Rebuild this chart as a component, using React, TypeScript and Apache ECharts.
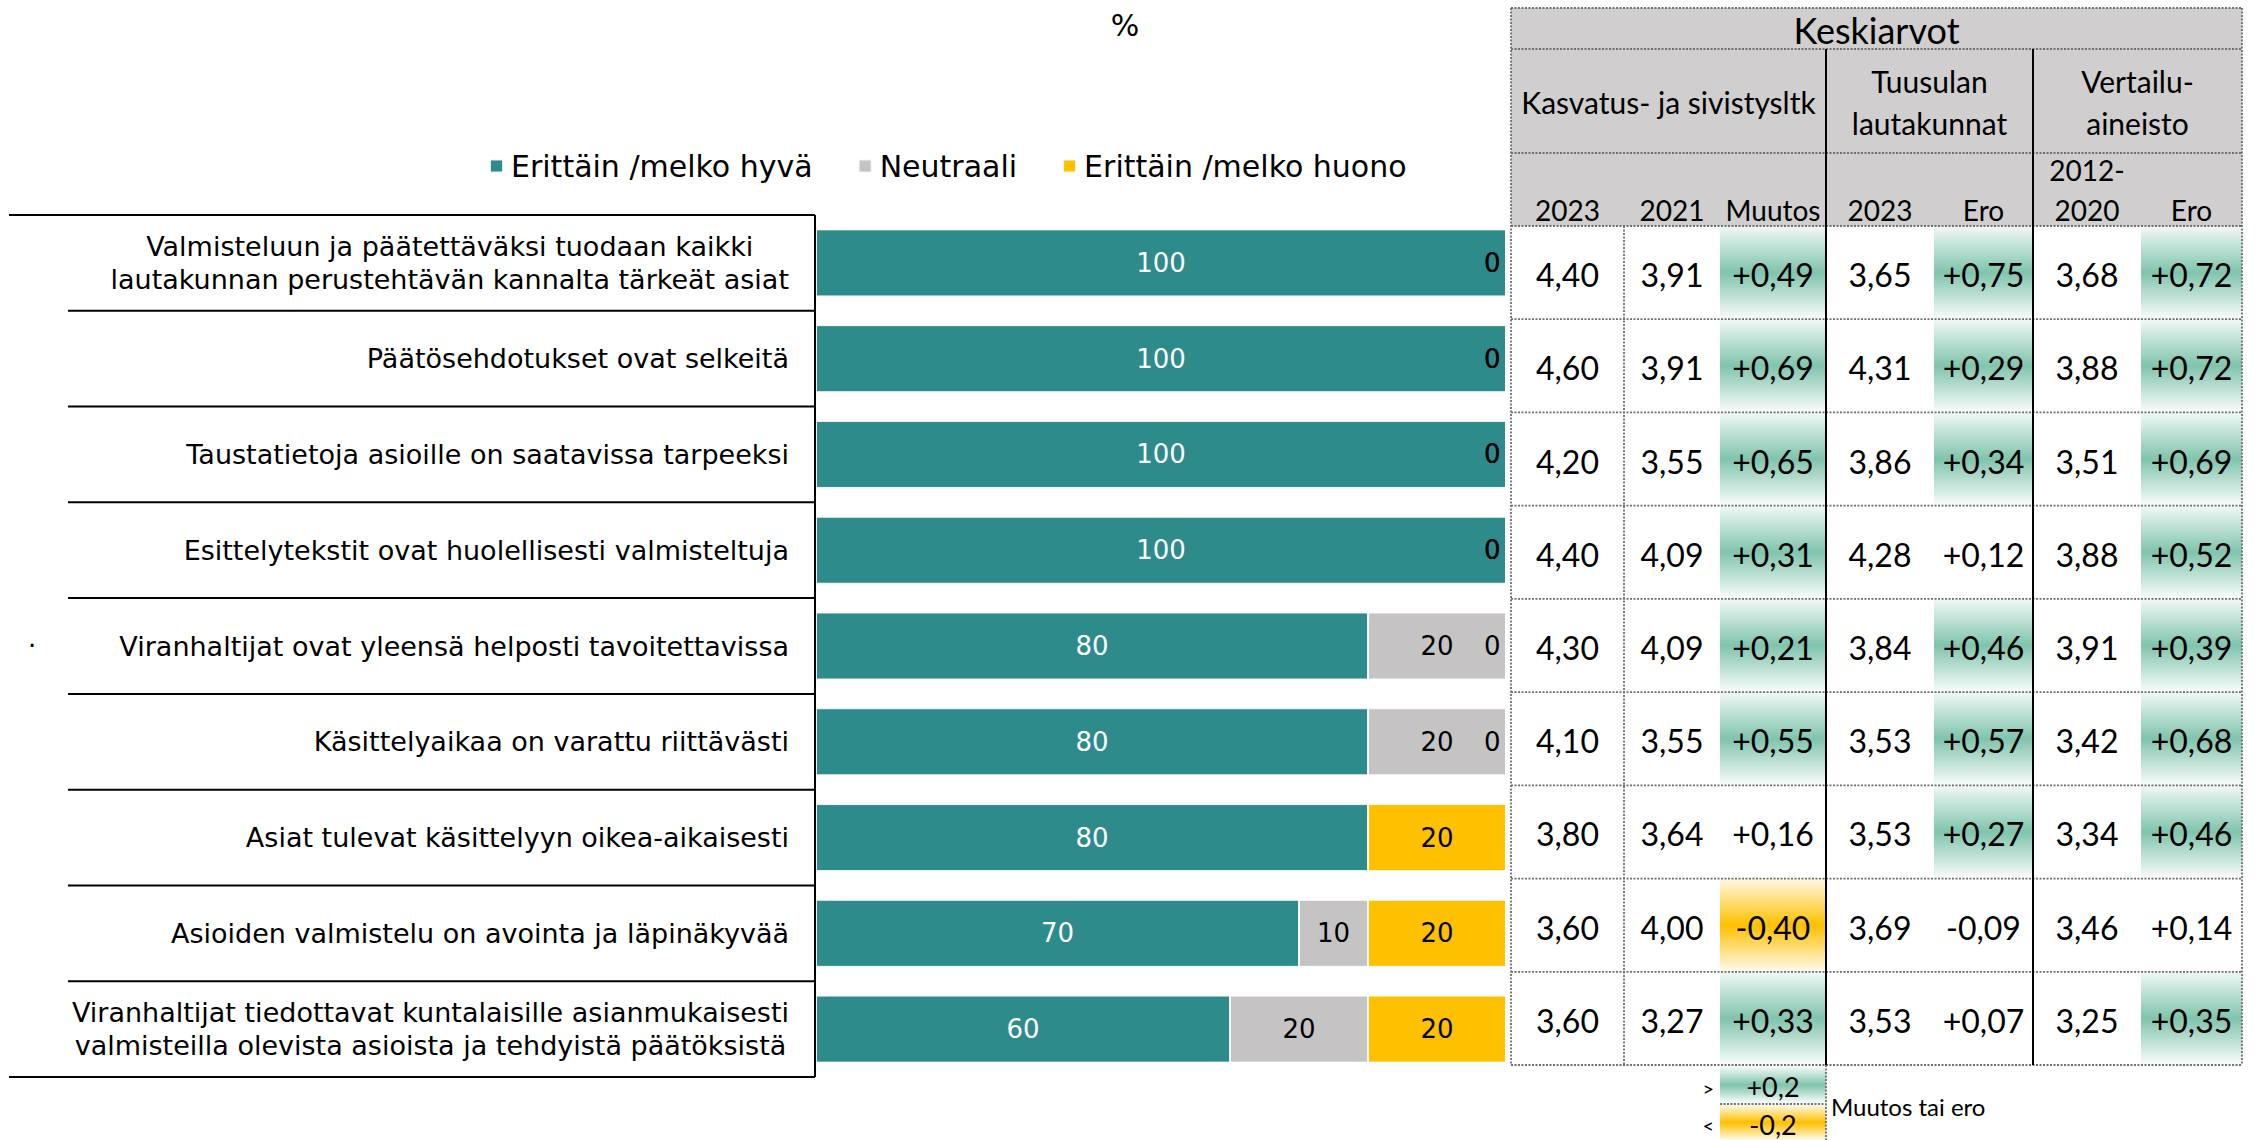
import React, { useEffect, useRef } from "react";
import * as echarts from "echarts";

// ---------- DATA ----------
const categories = [
  "Valmisteluun ja päätettäväksi tuodaan kaikki\nlautakunnan perustehtävän kannalta tärkeät asiat",
  "Päätösehdotukset ovat selkeitä",
  "Taustatietoja asioille on saatavissa tarpeeksi",
  "Esittelytekstit ovat huolellisesti valmisteltuja",
  "Viranhaltijat ovat yleensä helposti tavoitettavissa",
  "Käsittelyaikaa on varattu riittävästi",
  "Asiat tulevat käsittelyyn oikea-aikaisesti",
  "Asioiden valmistelu on avointa ja läpinäkyvää",
  "Viranhaltijat tiedottavat kuntalaisille asianmukaisesti\nvalmisteilla olevista asioista ja tehdyistä päätöksistä",
];
const seriesNames = ["Erittäin /melko hyvä", "Neutraali", "Erittäin /melko huono"];
const goodValues = [100, 100, 100, 100, 80, 80, 80, 70, 60];
const neutralValues = [0, 0, 0, 0, 20, 20, 0, 10, 20];
const badValues = [0, 0, 0, 0, 0, 0, 20, 20, 20];

const tableTitle = "Keskiarvot";
const groupHeaders = ["Kasvatus- ja sivistysltk", "Tuusulan\nlautakunnat", "Vertailu-\naineisto"];
const columnHeaders = ["2023", "2021", "Muutos", "2023", "Ero", "2012-\n2020", "Ero"];
const kasvatus2023 = [4.4, 4.6, 4.2, 4.4, 4.3, 4.1, 3.8, 3.6, 3.6];
const kasvatus2021 = [3.91, 3.91, 3.55, 4.09, 4.09, 3.55, 3.64, 4.0, 3.27];
const kasvatusMuutos = [0.49, 0.69, 0.65, 0.31, 0.21, 0.55, 0.16, -0.4, 0.33];
const tuusula2023 = [3.65, 4.31, 3.86, 4.28, 3.84, 3.53, 3.53, 3.69, 3.53];
const tuusulaEro = [0.75, 0.29, 0.34, 0.12, 0.46, 0.57, 0.27, -0.09, 0.07];
const vertailu = [3.68, 3.88, 3.51, 3.88, 3.91, 3.42, 3.34, 3.46, 3.25];
const vertailuEro = [0.72, 0.72, 0.69, 0.52, 0.39, 0.68, 0.46, 0.14, 0.35];
const threshold = 0.2;
const legendNote = "Muutos tai ero";
const unitLabel = "%";

// ---------- STYLE / LAYOUT ----------
const W = 2257;
const H = 1140;
const COLORS = ["#2E8B8B", "#C5C3C4", "#FFC000"];
const LABEL_FONT = "DejaVu Sans";
const TABLE_FONT = "Lato";
const GRID_L = 816;
const GRID_R = 1506;
const GRID_T = 215;
const GRID_B = 1077;
const COLS = [1511, 1624, 1720, 1826, 1934, 2033, 2141, 2242];
const T_TOP = 8;
const T_B1 = 49;
const T_B2 = 153;
const T_B3 = 226;
const T_BOT = 1065;

const fmt = (v: number, sign: boolean) => {
  const s = Math.abs(v).toFixed(2).replace(".", ",");
  if (!sign) return s;
  return (v >= 0 ? "+" : "-") + s;
};

const greenGrad = () =>
  new echarts.graphic.LinearGradient(0, 0, 0, 1, [
    { offset: 0, color: "#F1F9F6" },
    { offset: 0.5, color: "#80C4AD" },
    { offset: 1, color: "#FAFDFC" },
  ]);
const yellowGrad = () =>
  new echarts.graphic.LinearGradient(0, 0, 0, 1, [
    { offset: 0, color: "#FFF9E6" },
    { offset: 0.5, color: "#FFC000" },
    { offset: 1, color: "#FFFBEF" },
  ]);

function buildGraphics(): any[] {
  const g: any[] = [];
  const dotted = { stroke: "#6F6F6F", lineWidth: 1.8, lineDash: [2, 1.5] };
  const black = { stroke: "#000", lineWidth: 2 };
  const n = categories.length;

  // unit label
  g.push({
    type: "text",
    x: 1125,
    y: 25,
    style: { text: unitLabel, fontSize: 30, fontFamily: LABEL_FONT, fill: "#000", align: "center", verticalAlign: "middle" },
  });
  // stray dot
  g.push({
    type: "text",
    x: 32,
    y: 646,
    style: { text: "·", fontSize: 26, fontFamily: LABEL_FONT, fill: "#000", align: "center", verticalAlign: "middle" },
  });

  // label-table lines
  const rowH = (GRID_B - GRID_T) / n;
  for (let i = 0; i <= n; i++) {
    const y = GRID_T + i * rowH;
    const x1 = i === 0 || i === n ? 9 : 68;
    g.push({ type: "line", shape: { x1, y1: y, x2: GRID_L - 1, y2: y }, style: black });
  }
  g.push({ type: "line", shape: { x1: GRID_L - 1, y1: GRID_T, x2: GRID_L - 1, y2: GRID_B }, style: black });

  // table header bands
  const TL = COLS[0];
  const TR = COLS[COLS.length - 1];
  [
    [T_TOP, T_B1],
    [T_B1, T_B2],
    [T_B2, T_B3],
  ].forEach(([a, b]) => {
    g.push({ type: "rect", shape: { x: TL, y: a, width: TR - TL, height: b - a }, style: { fill: "#D0CECE" } });
  });
  g.push({
    type: "text",
    x: (TL + TR) / 2,
    y: (T_TOP + T_B1) / 2 + 1,
    style: { text: tableTitle, fontSize: 36, fontFamily: TABLE_FONT, fill: "#000", align: "center", verticalAlign: "middle" },
  });
  const groupSpans = [
    [COLS[0], COLS[3]],
    [COLS[3], COLS[5]],
    [COLS[5], COLS[7]],
  ];
  groupHeaders.forEach((t, i) => {
    g.push({
      type: "text",
      x: (groupSpans[i][0] + groupSpans[i][1]) / 2,
      y: (T_B1 + T_B2) / 2 + 1,
      style: { text: t, fontSize: 30, lineHeight: 42, fontFamily: TABLE_FONT, fill: "#000", align: "center", verticalAlign: "middle" },
    });
  });
  columnHeaders.forEach((t, i) => {
    const lines = t.split("\n").length;
    g.push({
      type: "text",
      x: (COLS[i] + COLS[i + 1]) / 2,
      y: 210 - (lines - 1) * 20,
      style: { text: t, fontSize: 28, lineHeight: 40, fontFamily: TABLE_FONT, fill: "#000", align: "center", verticalAlign: "middle" },
    });
  });

  // table body
  const tRowH = (T_BOT - T_B3) / n;
  const cols: [number[], boolean, boolean][] = [
    [kasvatus2023, false, false],
    [kasvatus2021, false, false],
    [kasvatusMuutos, true, true],
    [tuusula2023, false, false],
    [tuusulaEro, true, true],
    [vertailu, false, false],
    [vertailuEro, true, true],
  ];
  for (let r = 0; r < n; r++) {
    const y0 = T_B3 + r * tRowH;
    cols.forEach(([arr, sign, shade], c) => {
      const v = arr[r];
      const x0 = COLS[c];
      const x1 = COLS[c + 1];
      if (shade && (v > threshold || v < -threshold)) {
        g.push({
          type: "rect",
          shape: { x: x0, y: y0, width: x1 - x0, height: tRowH },
          style: { fill: v > 0 ? greenGrad() : yellowGrad() },
        });
      }
      g.push({
        type: "text",
        x: (x0 + x1) / 2,
        y: y0 + tRowH / 2 + 2,
        style: { text: fmt(v, sign), fontSize: 32, fontFamily: TABLE_FONT, fill: "#000", align: "center", verticalAlign: "middle" },
      });
    });
  }
  // horizontal dotted lines
  const hy = [T_TOP, T_B1, T_B2, T_B3];
  for (let r = 1; r <= n; r++) hy.push(T_B3 + r * tRowH);
  hy.forEach((y) => g.push({ type: "line", shape: { x1: TL, y1: y, x2: TR, y2: y }, style: dotted }));
  // vertical lines
  g.push({ type: "line", shape: { x1: TL, y1: T_TOP, x2: TL, y2: T_BOT }, style: dotted });
  g.push({ type: "line", shape: { x1: TR, y1: T_TOP, x2: TR, y2: T_BOT }, style: dotted });
  g.push({ type: "line", shape: { x1: COLS[1], y1: T_B3, x2: COLS[1], y2: T_BOT }, style: dotted });
  g.push({ type: "line", shape: { x1: COLS[3], y1: T_B1, x2: COLS[3], y2: T_BOT }, style: black });
  g.push({ type: "line", shape: { x1: COLS[5], y1: T_B1, x2: COLS[5], y2: T_BOT }, style: black });

  // threshold legend
  const lx0 = COLS[2];
  const lx1 = COLS[3];
  g.push({ type: "rect", shape: { x: lx0, y: 1067, width: lx1 - lx0, height: 36 }, style: { fill: greenGrad() } });
  g.push({ type: "rect", shape: { x: lx0, y: 1105, width: lx1 - lx0, height: 35 }, style: { fill: yellowGrad() } });
  g.push({ type: "line", shape: { x1: lx0, y1: 1104, x2: lx1, y2: 1104 }, style: dotted });
  g.push({ type: "line", shape: { x1: lx1, y1: T_BOT, x2: lx1, y2: H }, style: dotted });
  const small = { fontFamily: TABLE_FONT, fill: "#000", verticalAlign: "middle" };
  g.push({ type: "text", x: (lx0 + lx1) / 2, y: 1086, style: { ...small, text: "+" + String(threshold).replace(".", ","), fontSize: 27, align: "center" } });
  g.push({ type: "text", x: (lx0 + lx1) / 2, y: 1124, style: { ...small, text: "-" + String(threshold).replace(".", ","), fontSize: 27, align: "center" } });
  g.push({ type: "text", x: lx0 - 6, y: 1088, style: { ...small, text: ">", fontSize: 20, align: "right" } });
  g.push({ type: "text", x: lx0 - 6, y: 1125, style: { ...small, text: "<", fontSize: 20, align: "right" } });
  g.push({ type: "text", x: lx1 + 5, y: 1106, style: { ...small, text: legendNote, fontSize: 24, align: "left" } });
  return g;
}

function buildSeries() {
  const all = [goodValues, neutralValues, badValues];
  return all.map((vals, si) => ({
    name: seriesNames[si],
    type: "bar",
    stack: "total",
    barWidth: 67,
    itemStyle: { color: COLORS[si], borderColor: "rgba(255,255,255,0.85)", borderWidth: 1 },
    label: {
      show: true,
      position: "inside",
      color: si === 0 ? "#fff" : "#000",
      fontSize: 26,
      fontFamily: LABEL_FONT,
    },
    data: vals.map((v, r) => {
      if (v !== 0) return v;
      let cum = 0;
      for (let k = 0; k <= si; k++) cum += all[k][r];
      const atEnd = cum >= 100;
      return {
        value: v,
        label: atEnd ? { show: true, position: "insideRight", distance: 6 } : { show: false },
      };
    }),
  }));
}

export default function App() {
  const ref = useRef<HTMLDivElement>(null);
  useEffect(() => {
    document.body.style.margin = "0";
    if (!ref.current) return;
    const chart = echarts.init(ref.current, null, { renderer: "svg" });
    chart.setOption({
      animation: false,
      backgroundColor: "#fff",
      legend: {
        left: 484,
        top: 146,
        icon: "rect",
        itemWidth: 13,
        itemHeight: 13,
        itemGap: 45,
        data: seriesNames,
        textStyle: { fontSize: 30, fontFamily: LABEL_FONT, color: "#000", padding: [0, 0, 0, 3] },
      },
      grid: { left: GRID_L, top: GRID_T, width: GRID_R - GRID_L, height: GRID_B - GRID_T, containLabel: false },
      xAxis: { type: "value", min: 0, max: 100, show: false },
      yAxis: {
        type: "category",
        data: categories,
        inverse: true,
        axisLine: { show: false },
        axisTick: { show: false },
        splitLine: { show: false },
        axisLabel: {
          interval: 0,
          margin: 27,
          formatter: (v: string) =>
            v
              .split("\n")
              .map((l) => `{c|${l}}`)
              .join("\n"),
          rich: {
            c: { align: "center", fontSize: 27, fontFamily: LABEL_FONT, color: "#000", lineHeight: 33 },
          },
        },
      },
      series: buildSeries(),
      graphic: buildGraphics(),
    });
    return () => chart.dispose();
  }, []);
  return <div ref={ref} style={{ width: W, height: H }} />;
}
